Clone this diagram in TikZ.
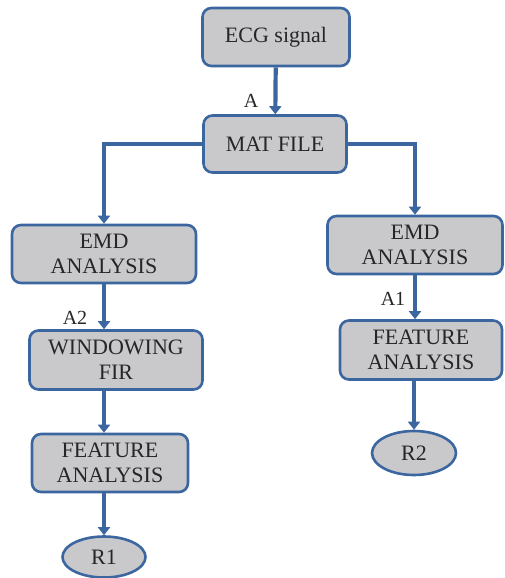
\documentclass[tikz,border=0pt]{standalone}
\usepackage{fontspec}
\setmainfont{Liberation Serif}
\usepackage{xcolor}
\usetikzlibrary{arrows.meta, shapes.geometric}
\definecolor{flowblue}{HTML}{3B66A0}
\definecolor{boxgray}{HTML}{C9C9CB}
\definecolor{inkgray}{HTML}{262626}

\begin{document}
\begin{tikzpicture}[x=1pt, y=-1pt,
        stagebox/.style={draw=flowblue, line width=2.6pt, fill=boxgray, rounded corners=9pt,
            align=center, text=inkgray, font=\fontsize{22}{25}\selectfont, inner sep=0pt},
        endcap/.style={draw=flowblue, line width=2.6pt, fill=boxgray, ellipse,
            text=inkgray, font=\fontsize{22}{25}\selectfont, inner sep=0pt},
        flow/.style={draw=flowblue, line width=4.2pt, -{Triangle[width=12pt, length=8pt]}},
        tag/.style={text=inkgray, font=\fontsize{20}{22}\selectfont}]
        \useasboundingbox (0,0) rectangle (504,578);
        % Top of chain
        \node[stagebox, minimum width=147pt, minimum height=58pt] (ecg) at (276,37) {ECG signal};
        \node[stagebox, minimum width=143pt, minimum height=57pt] (mat) at (275,144) {MAT FILE};
        % Left branch
        \node[stagebox, minimum width=184pt, minimum height=58pt] (emdL) at (104,254) {EMD\\ANALYSIS};
        \node[stagebox, minimum width=173pt, minimum height=59pt] (winL) at (116,360) {WINDOWING\\FIR};
        \node[stagebox, minimum width=156pt, minimum height=58pt] (featL) at (110,463) {FEATURE\\ANALYSIS};
        \node[endcap, minimum width=83pt, minimum height=41pt] (r1) at (104,557) {R1};
        % Right branch
        \node[stagebox, minimum width=175pt, minimum height=58pt] (emdR) at (415,245) {EMD\\ANALYSIS};
        \node[stagebox, minimum width=162pt, minimum height=59pt] (featR) at (421,350) {FEATURE\\ANALYSIS};
        \node[endcap, minimum width=84pt, minimum height=44pt] (r2) at (414,453) {R2};
        % Connectors
        \draw[flow] (ecg) -- (mat);
        \draw[flow] (mat.west) -| (emdL.north);
        \draw[flow] (mat.east) -| (emdR.north);
        \draw[flow] (emdL.south) -- (emdL.south |- winL.north);
        \draw[flow] (winL.south -| emdL.south) -- (featL.north -| emdL.south);
        \draw[flow] (featL.south -| r1.north) -- (r1.north);
        \draw[flow] (emdR.south) -- (emdR.south |- featR.north);
        \draw[flow] (featR.south -| r2.north) -- (r2.north);
        % Labels
        \node[tag] (lblA) at (251,101) {A};
        \node[tag] (lblA1) at (393,299) {A1};
        \node[tag] (lblA2) at (75,318) {A2};
\end{tikzpicture}
\end{document}
